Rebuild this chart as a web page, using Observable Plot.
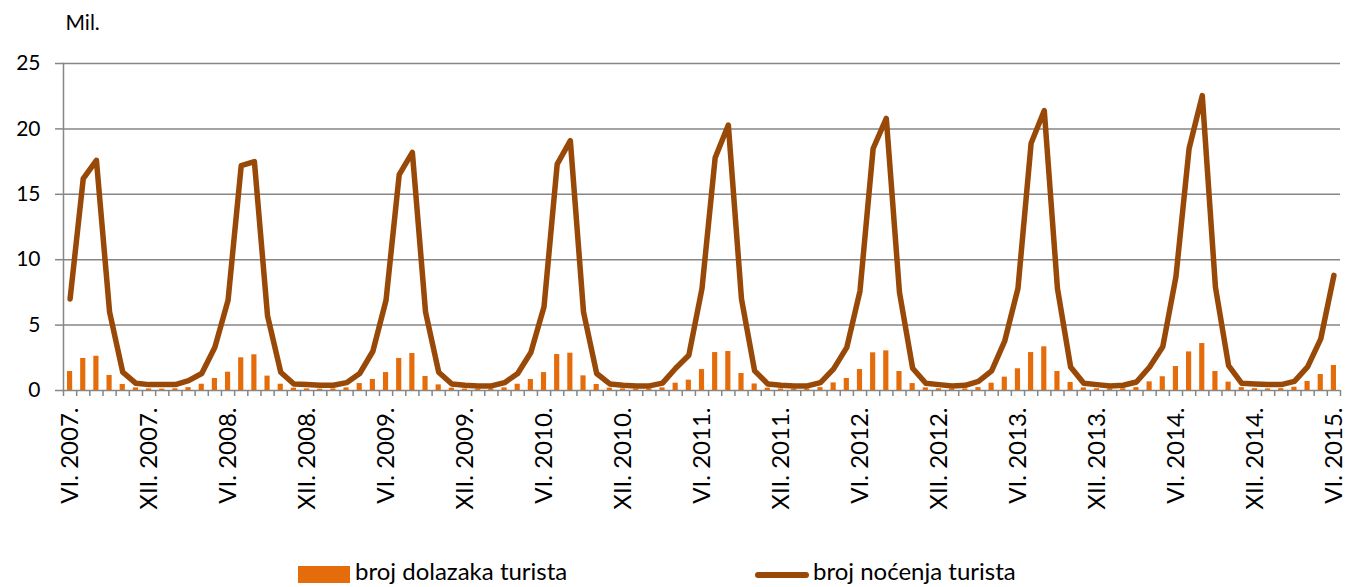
<!DOCTYPE html>
<html>
<head>
<meta charset="utf-8">
<script src="https://cdn.jsdelivr.net/npm/d3@7"></script>
<script src="https://cdn.jsdelivr.net/npm/@observablehq/plot@0.6"></script>
<style>
  body { margin: 0; background: #fff; font-family: Lato, "Open Sans", sans-serif; overflow: hidden; }
  #wrap { position: relative; width: 1347px; height: 587px; }
  #legend { position: absolute; left: 0; top: 540px; width: 1347px; height: 47px; font-size: 24px; color: #000; }
  .sw { position: absolute; }
  .lt { position: absolute; line-height: 28px; white-space: nowrap; }
</style>
</head>
<body>
<div id="wrap">
  <div id="chart"></div>
  <div id="legend">
    <div class="sw" style="left:298px; top:26px; width:52px; height:17px; background:#E46C0A;"></div>
    <div class="lt" style="left:355px; top:17px;">broj dolazaka turista</div>
    <div class="sw" style="left:755px; top:32px; width:54px; height:6px; border-radius:3px; background:#984807;"></div>
    <div class="lt" style="left:813px; top:17px;">broj noćenja turista</div>
  </div>
</div>
<script>
// Months: VI. 2007. – VI. 2015.
const roman = ["I","II","III","IV","V","VI","VII","VIII","IX","X","XI","XII"];
const months = [];
for (let y = 2007; y <= 2015; y++) {
  for (let m = 0; m < 12; m++) {
    if (y === 2007 && m < 5) continue;
    if (y === 2015 && m > 5) continue;
    months.push(roman[m] + ". " + y + ".");
  }
}
const tickLabels = months.filter((d, i) => i % 6 === 0);
const yTicks = [0, 5, 10, 15, 20, 25];

// broj noćenja turista (mil.)
const nights = [
  7.0, 16.2, 17.6, 6.0, 1.4, 0.55, 0.45,
  0.45, 0.45, 0.75, 1.3, 3.3, 6.9, 17.2, 17.5, 5.7, 1.4, 0.5, 0.45,
  0.4, 0.4, 0.6, 1.3, 3.0, 6.9, 16.5, 18.2, 6.0, 1.4, 0.5, 0.4,
  0.35, 0.35, 0.6, 1.3, 2.9, 6.4, 17.3, 19.1, 6.0, 1.3, 0.5, 0.4,
  0.35, 0.35, 0.56, 1.7, 2.7, 7.8, 17.8, 20.3, 7.0, 1.5, 0.5, 0.4,
  0.35, 0.35, 0.6, 1.65, 3.3, 7.6, 18.5, 20.8, 7.5, 1.7, 0.55, 0.45,
  0.35, 0.4, 0.7, 1.5, 3.8, 7.8, 18.9, 21.4, 7.8, 1.8, 0.55, 0.45,
  0.35, 0.4, 0.65, 1.8, 3.35, 8.7, 18.5, 22.55, 7.9, 1.9, 0.55, 0.5,
  0.45, 0.45, 0.7, 1.8, 3.95, 8.8
];

// broj dolazaka turista (mil.)
const arrivals = [
  1.45, 2.45, 2.62, 1.15, 0.46, 0.2, 0.12,
  0.1, 0.13, 0.22, 0.48, 0.92, 1.4, 2.5, 2.73, 1.1, 0.48, 0.18, 0.12,
  0.1, 0.12, 0.2, 0.53, 0.84, 1.37, 2.45, 2.83, 1.07, 0.43, 0.18, 0.11,
  0.1, 0.12, 0.2, 0.48, 0.84, 1.37, 2.75, 2.85, 1.12, 0.46, 0.18, 0.12,
  0.1, 0.12, 0.2, 0.56, 0.79, 1.6, 2.9, 2.98, 1.3, 0.5, 0.18, 0.12,
  0.1, 0.12, 0.22, 0.58, 0.92, 1.6, 2.88, 3.03, 1.45, 0.53, 0.2, 0.13,
  0.1, 0.12, 0.22, 0.56, 1.02, 1.66, 2.9, 3.34, 1.45, 0.61, 0.2, 0.13,
  0.11, 0.13, 0.22, 0.66, 1.05, 1.83, 2.95, 3.59, 1.45, 0.64, 0.22, 0.14,
  0.12, 0.14, 0.25, 0.69, 1.22, 1.91
];

const data = months.map((m, i) => ({m, nights: nights[i], arrivals: arrivals[i]}));

const W = 1347, H = 540, mL = 63, mR = 7, mT = 63, mB = 150;
const bw = (W - mL - mR) / months.length;
const gray = "#868686";

const chart = Plot.plot({
  width: W,
  height: H,
  marginLeft: mL,
  marginRight: mR,
  marginTop: mT,
  marginBottom: mB,
  style: {fontFamily: "Lato, 'Open Sans', sans-serif", color: "#000", background: "#fff"},
  x: {type: "band", domain: months, padding: 0, round: false, axis: null},
  y: {domain: [0, 25], axis: null},
  marks: [
    Plot.gridY(yTicks, {stroke: gray, strokeOpacity: 1, strokeWidth: 1.5}),
    Plot.axisY(yTicks, {tickSize: 8, tickPadding: 15, stroke: gray, strokeWidth: 1.5, fontSize: 21, fill: "#000", label: null}),
    Plot.frame({anchor: "left", stroke: gray, strokeWidth: 1.5}),
    Plot.axisX(months, {text: null, tickSize: 6, dx: -bw / 2, stroke: gray, strokeWidth: 1.5, label: null}),
    Plot.axisX([months[months.length - 1]], {text: null, tickSize: 6, dx: bw / 2, stroke: gray, strokeWidth: 1.5, label: null}),
    Plot.axisX(tickLabels, {tickSize: 0, tickPadding: 17, rotate: -90, textAnchor: "end", lineAnchor: "middle", fontSize: 24, fill: "#000", label: null}),
    Plot.barY(data, {x: "m", y: "arrivals", fill: "#E46C0A", insetLeft: 4, insetRight: 4}),
    Plot.lineY(data, {x: "m", y: "nights", stroke: "#984807", strokeWidth: 5.5, strokeLinejoin: "round", strokeLinecap: "round"}),
    Plot.text(["Mil."], {frameAnchor: "top-left", dx: 2, dy: -48, textAnchor: "start", fontSize: 21, fill: "#000"})
  ]
});
document.getElementById("chart").appendChild(chart);
</script>
</body>
</html>
